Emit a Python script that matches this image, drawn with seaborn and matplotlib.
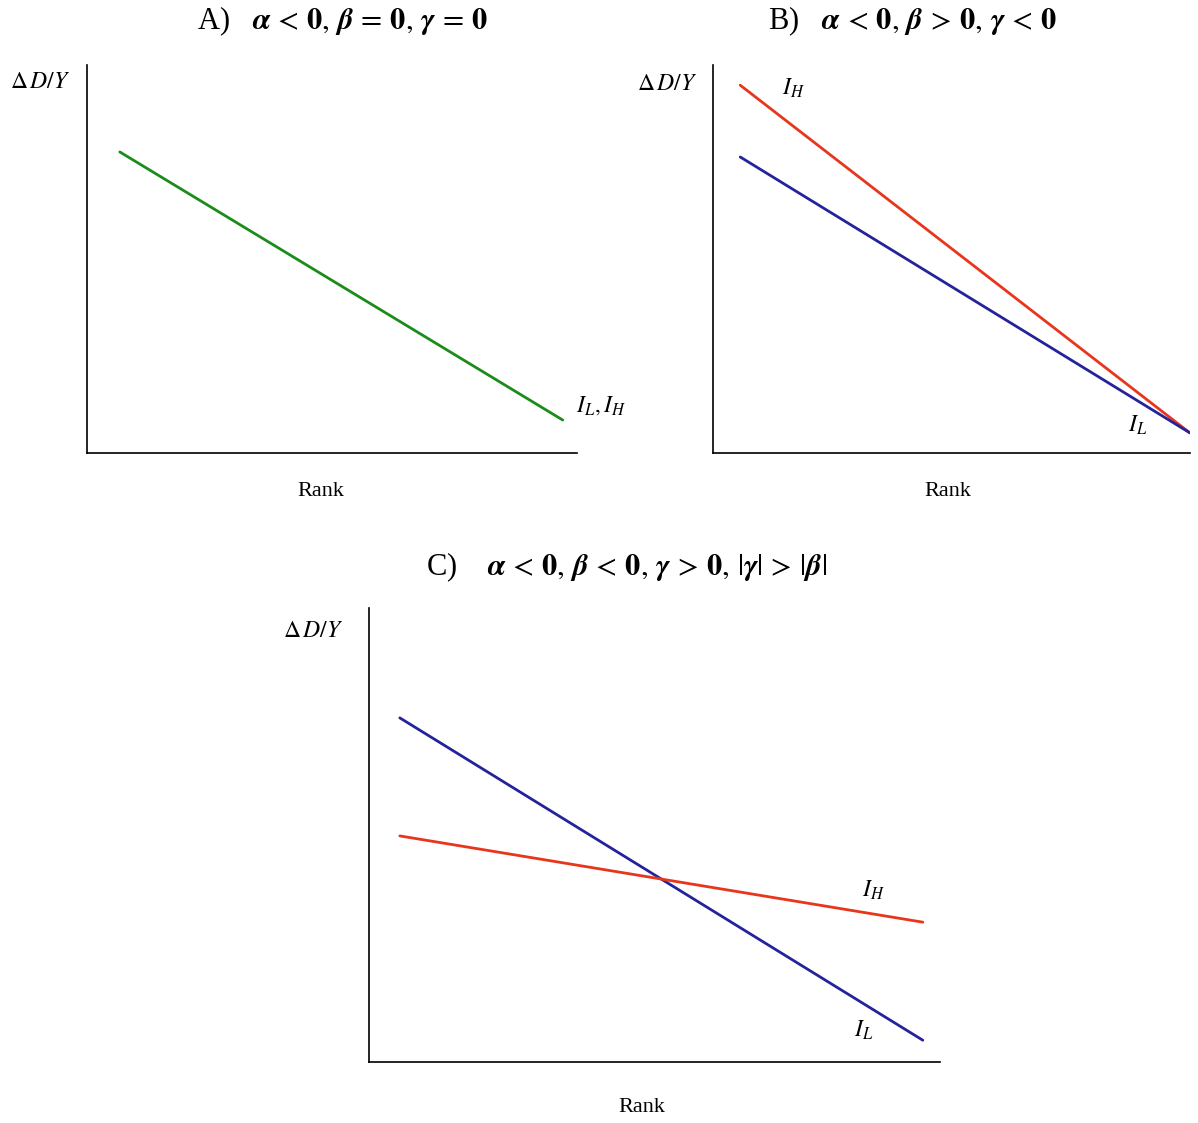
import numpy as np
import pandas as pd
import matplotlib
matplotlib.use("Agg")
import matplotlib.pyplot as plt
import seaborn as sns

# values, in axis units 0..100
a_rank = [6.7, 97.1]
a_both = [77.6, 8.5]

b_rank = [5.7, 100.0]
b_high = [94.8, 5.2]
b_low = [76.3, 5.2]

c_rank = [5.4, 97.0]
c_low = [75.8, 4.8]
c_high = [49.8, 30.8]

titles = [
    r"A)   $\boldsymbol{\alpha} \,<\, \mathbf{0},\, \boldsymbol{\beta} \,=\, \mathbf{0},\, \boldsymbol{\gamma} \,=\, \mathbf{0}$",
    r"B)   $\boldsymbol{\alpha} \,<\, \mathbf{0},\, \boldsymbol{\beta} \,>\, \mathbf{0},\, \boldsymbol{\gamma} \,<\, \mathbf{0}$",
    r"C)    $\boldsymbol{\alpha} \,<\, \mathbf{0},\, \boldsymbol{\beta} \,<\, \mathbf{0},\, \boldsymbol{\gamma} \,>\, \mathbf{0},\, |\boldsymbol{\gamma}| \,>\, |\boldsymbol{\beta}|$",
]

GREEN = "#1a8c1a"
RED = "#e8361c"
BLUE = "#23239a"

sns.set_theme(style="white")
plt.rcParams['font.family'] = ['Liberation Serif', 'DejaVu Serif']
plt.rcParams['mathtext.fontset'] = 'stix'
plt.rcParams['text.color'] = 'black'

fig = plt.figure(figsize=(11.98, 11.23), dpi=100)
ax_a = fig.add_axes([0.0726, 0.5966, 0.409, 0.3455])
ax_b = fig.add_axes([0.5952, 0.5966, 0.398, 0.3455])
ax_c = fig.add_axes([0.308, 0.0543, 0.4766, 0.4043])


def style_axis(ax, ylab_xy, rank_xy):
    ax.set_xlim(0, 100)
    ax.set_ylim(0, 100)
    for s in ["top", "right"]:
        ax.spines[s].set_visible(False)
    for s in ["left", "bottom"]:
        ax.spines[s].set_color("black")
        ax.spines[s].set_linewidth(1.2)
    ax.set_xticks([])
    ax.set_yticks([])
    ax.set_xlabel("")
    ax.set_ylabel("")
    ax.text(*ylab_xy, r"$\Delta\, D/Y$", transform=ax.transAxes,
            ha="center", va="center", fontsize=17, clip_on=False)
    ax.text(*rank_xy, "Rank", transform=ax.transAxes,
            ha="center", va="center", fontsize=16, clip_on=False)
    if ax.get_legend() is not None:
        ax.get_legend().remove()


# panel A
sns.lineplot(x=a_rank, y=a_both, ax=ax_a, color=GREEN, linewidth=2)
style_axis(ax_a, (-0.096, 0.956), (0.478, -0.10))
ax_a.text(1.05, 0.121, r"$I_L, I_H$", transform=ax_a.transAxes,
          ha="center", va="center", fontsize=17, clip_on=False)

# panel B
sns.lineplot(x=b_rank, y=b_high, ax=ax_b, color=RED, linewidth=2)
sns.lineplot(x=b_rank, y=b_low, ax=ax_b, color=BLUE, linewidth=2)
style_axis(ax_b, (-0.096, 0.951), (0.493, -0.10))
ax_b.text(0.168, 0.94, r"$I_H$", transform=ax_b.transAxes,
          ha="center", va="center", fontsize=17)
ax_b.text(0.891, 0.072, r"$I_L$", transform=ax_b.transAxes,
          ha="center", va="center", fontsize=17)

# panel C
sns.lineplot(x=c_rank, y=c_low, ax=ax_c, color=BLUE, linewidth=2)
sns.lineplot(x=c_rank, y=c_high, ax=ax_c, color=RED, linewidth=2)
style_axis(ax_c, (-0.098, 0.949), (0.478, -0.101))
ax_c.text(0.883, 0.379, r"$I_H$", transform=ax_c.transAxes,
          ha="center", va="center", fontsize=17)
ax_c.text(0.867, 0.07, r"$I_L$", transform=ax_c.transAxes,
          ha="center", va="center", fontsize=17)

fig.text(0.286, 0.981, titles[0], ha="center", va="center", fontsize=22)
fig.text(0.762, 0.981, titles[1], ha="center", va="center", fontsize=22)
fig.text(0.523, 0.495, titles[2], ha="center", va="center", fontsize=22)

fig.savefig("out.png", dpi=100)
